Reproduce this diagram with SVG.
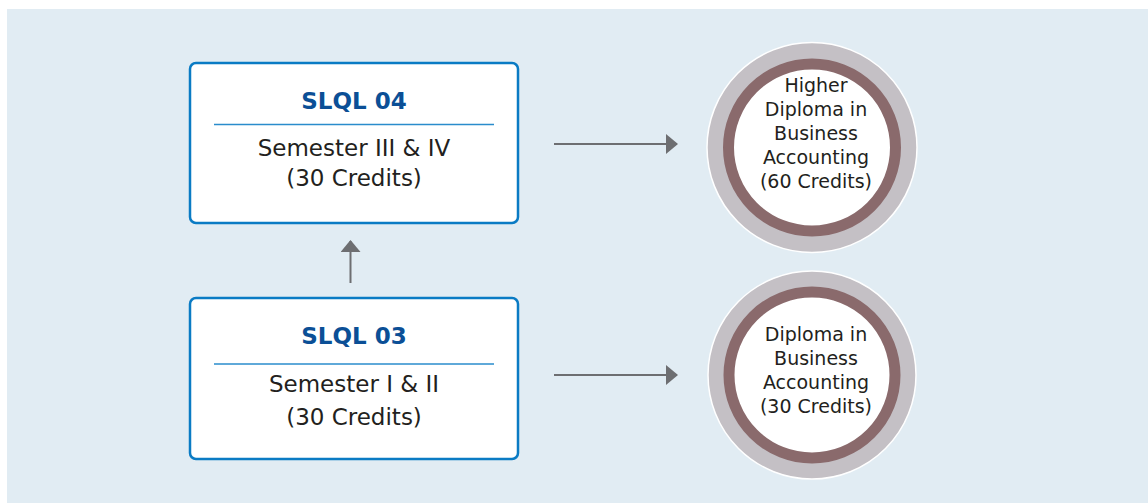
<svg xmlns="http://www.w3.org/2000/svg" width="1148" height="503" viewBox="0 0 1148 503">
<defs>
<style>
.box{fill:#fff;stroke:#0a7bc4;stroke-width:2.5}
.div{stroke:#2a8ccc;stroke-width:1.5}
.title{font-family:"DejaVu Sans",Verdana,sans-serif;font-weight:bold;font-size:23px;fill:#0b4f96;text-anchor:middle}
.body{font-family:"DejaVu Sans",Verdana,sans-serif;font-size:23px;fill:#231f20;text-anchor:middle}
.ctext{font-family:"DejaVu Sans",Verdana,sans-serif;font-size:19px;fill:#231f20;text-anchor:middle}
.outer{fill:#c4c0c5;stroke:#fff;stroke-width:1.5}
.ring{fill:#fff;stroke:#8a6a6c;stroke-width:11}
.conn{stroke:#6d6e71;stroke-width:2;fill:none;marker-end:url(#ah)}
</style>
<marker id="ah" markerWidth="12" markerHeight="20" refX="11" refY="10" orient="auto" markerUnits="userSpaceOnUse">
<path d="M0,0 L12,10 L0,20 Z" fill="#6d6e71"/>
</marker>
</defs>
<rect x="7" y="9" width="1141" height="494" fill="#e1ecf3"/>
<g id="connectors">
<line class="conn" x1="554" y1="144" x2="677" y2="144"/>
<line class="conn" x1="554" y1="375" x2="677" y2="375"/>
<line class="conn" x1="350.5" y1="283" x2="350.5" y2="241"/>
</g>
<g id="slql04">
<rect class="box" x="190" y="63" width="328" height="160" rx="6"/>
<text class="title" x="354" y="109">SLQL 04</text>
<line class="div" x1="214" y1="124.5" x2="494" y2="124.5"/>
<text class="body" x="354" y="156">Semester III &amp; IV</text>
<text class="body" x="354" y="186">(30 Credits)</text>
</g>
<g id="slql03">
<rect class="box" x="190" y="298" width="328" height="161" rx="6"/>
<text class="title" x="354" y="344">SLQL 03</text>
<line class="div" x1="214" y1="364" x2="494" y2="364"/>
<text class="body" x="354" y="392">Semester I &amp; II</text>
<text class="body" x="354" y="425">(30 Credits)</text>
</g>
<g id="higher-diploma">
<circle class="outer" cx="812" cy="147.5" r="105"/>
<circle class="ring" cx="812" cy="147.5" r="83.5"/>
<text class="ctext" x="816" y="92">Higher</text>
<text class="ctext" x="816" y="116">Diploma in</text>
<text class="ctext" x="816" y="140">Business</text>
<text class="ctext" x="816" y="164">Accounting</text>
<text class="ctext" x="816" y="188">(60 Credits)</text>
</g>
<g id="diploma">
<circle class="outer" cx="812" cy="375" r="104"/>
<circle class="ring" cx="812" cy="375" r="83"/>
<text class="ctext" x="816" y="341">Diploma in</text>
<text class="ctext" x="816" y="365">Business</text>
<text class="ctext" x="816" y="389">Accounting</text>
<text class="ctext" x="816" y="413">(30 Credits)</text>
</g>
</svg>
